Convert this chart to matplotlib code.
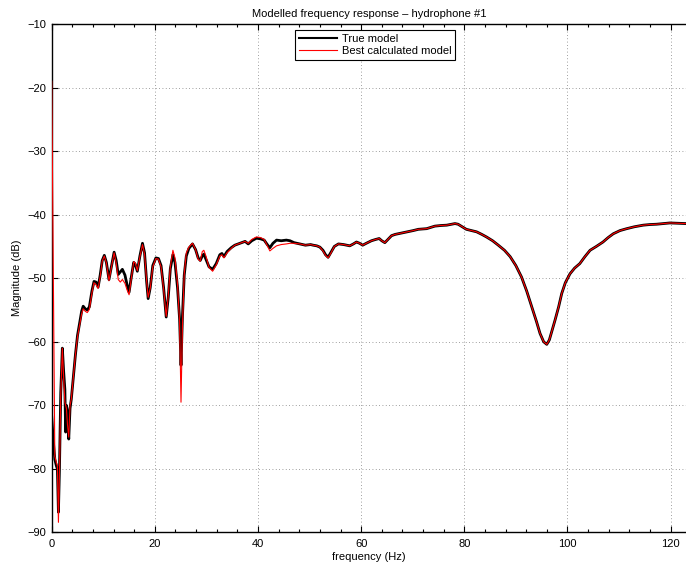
import numpy as np
import matplotlib
matplotlib.use('Agg')
import matplotlib.pyplot as plt
from matplotlib.ticker import MultipleLocator

plt.rcParams['font.family'] = ['Liberation Sans', 'DejaVu Sans']

# frequency grid (Hz)
freq = [
    0.0, 0.3, 0.6, 0.9, 1.1, 1.3, 1.5, 1.75, 2.06, 2.3, 2.55, 2.7, 2.85, 3.05,
    3.3, 3.55, 3.8, 4.2, 4.6, 5.0, 5.5, 5.8, 6.1, 6.5, 6.9, 7.3, 7.8, 8.2, 8.6,
    9.0, 9.4, 9.8, 10.2, 10.6, 11.1, 11.5, 12.1, 12.5, 12.9, 13.3, 13.7, 14.2,
    14.6, 15.0, 15.4, 15.9, 16.2, 16.6, 17.1, 17.6, 18.0, 18.4, 18.7, 19.1,
    19.6, 20.2, 20.7, 21.2, 21.7, 22.2, 22.6, 23.0, 23.5, 23.9, 24.4, 24.8,
    25.07, 25.35, 25.7, 26.1, 26.6, 27.3, 27.9, 28.4, 28.8, 29.2, 29.5, 29.9,
    30.5, 31.2, 31.9, 32.6, 33.0, 33.4, 34.0, 34.8, 35.5, 36.5, 37.5, 38.1,
    38.8, 39.7, 40.5, 41.2, 41.8, 42.3, 42.9, 43.6, 44.5, 45.5, 46.2, 47.0,
    48.1, 49.2, 50.2, 50.7, 51.4, 52.0, 52.6, 53.1, 53.6, 54.1, 54.8, 55.6,
    56.6, 57.8, 58.5, 59.1, 59.7, 60.3, 61.0, 62.0, 62.8, 63.5, 64.0, 64.6,
    65.2, 65.9, 66.6, 67.8, 69.1, 70.1, 71.1, 72.7, 73.5, 74.3, 75.5, 76.6,
    77.5, 78.2, 78.8, 79.4, 80.4, 81.4, 82.4, 83.4, 84.3, 85.5, 86.6, 87.8,
    88.9, 90.0, 91.1, 92.1, 93.1, 94.0, 94.7, 95.4, 96.0, 96.5, 97.0, 97.6,
    98.3, 98.9, 99.6, 100.5, 101.4, 102.4, 103.4, 104.4, 105.6, 106.9, 107.9,
    108.9, 110.2, 111.5, 113.0, 114.7, 116.0, 117.3, 118.6, 119.9, 121.5, 123.0,
]

# magnitude of the true model (dB)
mag_true = [
    -71.8, -75.5, -78.5, -79.5, -80.0, -86.8, -80.0, -68.0, -61.0, -64.5, -67.5,
    -74.2, -70.0, -71.0, -75.3, -70.5, -69.0, -65.5, -62.0, -59.0, -56.6, -55.2,
    -54.4, -54.8, -55.0, -54.5, -52.0, -50.5, -50.6, -51.4, -49.5, -47.2, -46.4,
    -47.5, -50.2, -48.5, -45.9, -47.2, -49.4, -49.0, -48.6, -49.5, -51.0, -52.2,
    -50.0, -47.5, -47.8, -48.9, -46.5, -44.5, -46.0, -50.5, -53.2, -51.5, -48.0,
    -46.8, -46.9, -48.0, -51.5, -56.1, -53.0, -48.5, -46.3, -47.5, -51.5, -56.5,
    -63.7, -56.0, -49.5, -46.5, -45.3, -44.6, -45.5, -46.8, -47.2, -46.5, -46.2,
    -47.0, -48.2, -48.6, -47.7, -46.3, -46.1, -46.6, -45.8, -45.2, -44.8, -44.5,
    -44.2, -44.6, -44.1, -43.7, -43.8, -44.0, -44.7, -45.2, -44.5, -44.0, -44.1,
    -44.0, -44.1, -44.4, -44.6, -44.8, -44.7, -44.8, -44.9, -45.1, -45.6, -46.3,
    -46.7, -46.0, -45.0, -44.6, -44.7, -44.9, -44.6, -44.3, -44.5, -44.8, -44.5,
    -44.1, -43.9, -43.75, -44.1, -44.4, -43.9, -43.3, -43.1, -42.9, -42.7, -42.5,
    -42.3, -42.2, -42.0, -41.8, -41.7, -41.65, -41.5, -41.4, -41.5, -41.8, -42.3,
    -42.5, -42.7, -43.1, -43.5, -44.1, -44.8, -45.6, -46.6, -48.0, -49.8, -52.0,
    -54.5, -56.8, -58.7, -60.0, -60.4, -59.7, -58.3, -56.6, -54.5, -52.4, -50.7,
    -49.3, -48.4, -47.7, -46.6, -45.6, -45.0, -44.3, -43.6, -43.0, -42.5, -42.2,
    -41.9, -41.65, -41.55, -41.5, -41.4, -41.3, -41.35, -41.4,
]

# magnitude of the best calculated model (dB)
mag_best = [
    -19.0, -48.0, -78.0, -79.0, -79.5, -88.4, -80.5, -68.5, -61.0, -65.5, -69.5,
    -70.0, -70.5, -73.0, -75.0, -70.0, -69.0, -65.5, -62.0, -59.2, -56.9, -55.6,
    -54.8, -55.2, -55.4, -54.9, -52.3, -50.7, -51.0, -51.6, -49.7, -47.3, -46.5,
    -47.6, -50.4, -48.6, -46.0, -47.6, -50.2, -50.6, -50.2, -50.8, -51.8, -52.6,
    -50.2, -47.4, -47.6, -48.8, -46.6, -44.7, -46.2, -50.4, -53.0, -51.6, -48.2,
    -46.9, -47.0, -48.2, -51.7, -56.0, -52.8, -48.2, -45.6, -46.8, -51.0, -57.0,
    -69.5, -57.5, -49.3, -46.0, -45.1, -44.5, -45.5, -47.0, -47.3, -45.8, -45.6,
    -46.5, -48.3, -48.9, -47.9, -46.5, -46.3, -46.8, -46.0, -45.3, -44.8, -44.5,
    -44.2, -44.5, -43.9, -43.5, -43.6, -43.9, -44.9, -45.7, -45.3, -44.9, -44.7,
    -44.6, -44.5, -44.5, -44.6, -44.8, -44.7, -44.8, -44.9, -45.1, -45.7, -46.4,
    -46.8, -46.1, -45.0, -44.6, -44.7, -44.9, -44.6, -44.3, -44.5, -44.8, -44.5,
    -44.1, -43.9, -43.75, -44.1, -44.4, -43.9, -43.3, -43.1, -42.9, -42.7, -42.5,
    -42.3, -42.2, -42.0, -41.8, -41.7, -41.65, -41.5, -41.4, -41.5, -41.8, -42.3,
    -42.5, -42.7, -43.1, -43.5, -44.1, -44.8, -45.6, -46.6, -48.0, -49.8, -52.0,
    -54.5, -56.8, -58.7, -60.0, -60.4, -59.7, -58.3, -56.6, -54.5, -52.4, -50.7,
    -49.3, -48.4, -47.7, -46.6, -45.6, -45.0, -44.3, -43.6, -43.0, -42.5, -42.2,
    -41.9, -41.65, -41.55, -41.5, -41.4, -41.3, -41.35, -41.4,
]

fig = plt.figure(figsize=(6.86, 5.66), dpi=100)
ax = fig.add_axes([0.0754, 0.0592, 0.9246, 0.8984])

ax.plot(freq, mag_true, '-', color='black', lw=2.0, label='True model', zorder=3)
ax.plot(freq, mag_best, '-', color='red', lw=0.8, label='Best calculated model', zorder=4)

ax.set_xlim(0, 123)
ax.set_ylim(-90, -10)
ax.xaxis.set_major_locator(MultipleLocator(20))
ax.xaxis.set_minor_locator(MultipleLocator(4))
ax.yaxis.set_major_locator(MultipleLocator(10))

ax.grid(True, which='major', color='#7f7f7f', linestyle=(0, (1, 3)), lw=0.6)
ax.tick_params(which='both', direction='in', top=True, right=False, labelsize=8,
               width=0.8)
ax.tick_params(axis='x', pad=5)
ax.tick_params(axis='y', pad=4)
ax.tick_params(which='major', length=4)
ax.tick_params(which='minor', length=2.5)
for s in ['left', 'bottom', 'top']:
    ax.spines[s].set_linewidth(1.0)
ax.spines['right'].set_visible(False)

ax.set_title('Modelled frequency response \u2013 hydrophone #1', fontsize=8, pad=5)
ax.set_xlabel('frequency (Hz)', fontsize=8, labelpad=2)
ax.set_ylabel('Magnitude (dB)', fontsize=8, labelpad=4)

leg = ax.legend(loc='upper center', bbox_to_anchor=(0.51, 0.988), fontsize=8,
                frameon=True, fancybox=False, edgecolor='black', framealpha=1,
                borderpad=0.35, labelspacing=0.2, handlelength=3.4, handletextpad=0.4,
                borderaxespad=0)
leg.get_frame().set_linewidth(0.8)
leg.get_lines()[0].set_linewidth(1.5)

fig.savefig('out.png', dpi=100)
